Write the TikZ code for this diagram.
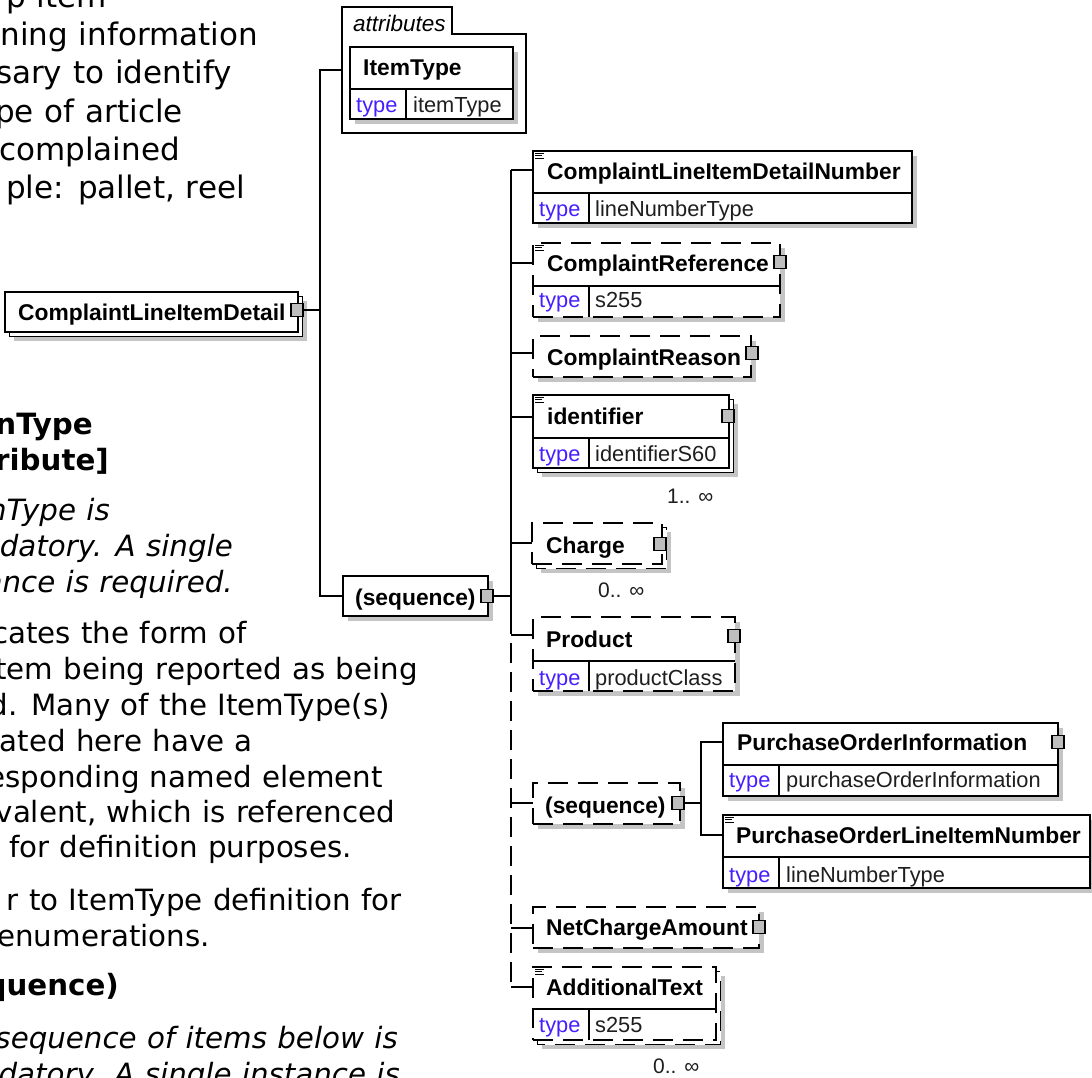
\documentclass[tikz,border=0pt]{standalone}
\usepackage{fontspec}
\setmainfont{Liberation Sans}
\newfontfamily\docfont[WordSpace=1.11]{DejaVu Sans}
\definecolor{shd}{RGB}{196,196,196}
\definecolor{btngray}{RGB}{190,190,190}
\definecolor{typeblue}{RGB}{70,30,255}
\definecolor{valtxt}{RGB}{30,30,30}
\newcommand\nmf{\fontsize{22.8}{27}\selectfont\bfseries}
\newcommand\tyf{\fontsize{21.8}{26}\selectfont}
\newcommand\docA{\docfont\fontsize{31}{38}\selectfont}
\newcommand\docB{\docfont\fontsize{29.3}{36}\selectfont}
\tikzset{
  bl/.style={draw=black, line width=1.6pt},
  dsh/.style={dash pattern=on 20pt off 10pt},
  sld/.style={solid},
  ebox/.style={bl, fill=white, rectangle, anchor=north west, inner sep=0pt, outer sep=0pt},
  conn/.style={draw=black, line width=1.6pt},
  nm/.style={font=\nmf, anchor=base west, inner sep=0pt},
  tl/.style={font=\tyf, text=typeblue, anchor=base west, inner sep=0pt},
  tv/.style={font=\tyf, text=valtxt, anchor=base west, inner sep=0pt},
  ml/.style={font=\fontsize{21}{25}\selectfont, text=valtxt, anchor=base west, inner sep=0pt},
  pbtn/.style={draw=black, line width=1.3pt, fill=btngray, minimum width=12pt, minimum height=13pt, inner sep=0pt, outer sep=0pt},
  dA/.style={font=\docA, anchor=base east, inner sep=0pt},
  dB/.style={font=\docB, anchor=base east, inner sep=0pt},
  dBb/.style={font=\docB\bfseries, anchor=base east, inner sep=0pt},
  dBi/.style={font=\docB\itshape, anchor=base east, inner sep=0pt},
}
\newcommand\mybox[6]{%
  \fill[shd] ({#3+5},{#4+5}) rectangle ({#5+5},{#6+5});
  \node[ebox,#1,minimum width={#5-#3},minimum height={#6-#4}] (#2) at (#3,#4) {};}
\newcommand\mystack[6]{%
  \fill[shd] ({#3+9},{#4+9}) rectangle ({#5+9},{#6+9});
  \draw[bl,#1,fill=white] ({#3+4.5},{#4+4.5}) rectangle ({#5+4.5},{#6+4.5});
  \node[ebox,#1,minimum width={#5-#3},minimum height={#6-#4}] (#2) at (#3,#4) {};}
\newcommand\docicon[2]{\draw[line width=0.9pt] ({#1+2},{#2+2.5}) -- ++(9,0) ({#1+2},{#2+4.8}) -- ++(7,0) ({#1+2},{#2+7.1}) -- ++(9,0);}
\begin{document}
\begin{tikzpicture}[x=1pt,y=-1pt]
\useasboundingbox (0,0) rectangle (1092,1077);
\clip (0,0) rectangle (1092,1077);
\fill[white] (0,0) rectangle (1092,1077);

% ---------- left documentation text ----------
\node[dA] (a1) at (107,7) {p item};
\node[dA] (a2) at (258,45) {ning information};
\node[dA] (a3) at (232,83) {sary to identify};
\node[dA] (a4) at (183,122) {pe of article};
\node[dA] (a5) at (180,160) {complained};
\node[dA] (a6) at (245,198) {ple: pallet, reel};

\node[dBb] (b1) at (93,434) {nType};
\node[dBb] (b2) at (109,470) {ribute]};
\node[dBi] (b3) at (110,520) {nType is};
\node[dBi] (b4) at (233,556) {edatory. A single};
\node[dBi] (b5) at (233,592) {ance is required.};
\node[dB] (b6) at (247,643) {cates the form of};
\node[dB] (b7) at (418,679) {tem being reported as being};
\node[dB] (b8) at (390,715) {d. Many of the ItemType(s)};
\node[dB] (b9) at (253,751) {cated here have a};
\node[dB] (b10) at (383,787) {esponding named element};
\node[dB] (b11) at (395,822) {valent, which is referenced};
\node[dB] (b12) at (352,857) {for definition purposes.};
\node[dB] (b13) at (402,910) {r to ItemType definition for};
\node[dB] (b14) at (210,946) {enumerations.};
\node[dBb] (b15) at (119,995) {quence)};
\node[dBi] (b16) at (398,1048) {sequence of items below is};
\node[dBi] (b17) at (400,1084) {datory. A single instance is};

% ---------- ComplaintLineItemDetail ----------
\mystack{sld}{cli}{5}{292}{298}{332}
\node[nm] (clit) at (18,320) {ComplaintLineItemDetail};
\node[pbtn] (clibtn) at (297,310) {};

% ---------- attributes group ----------
\node[anchor=north west, minimum width=184pt, minimum height=126pt, inner sep=0pt, outer sep=0pt] (attrgrp) at (342,7) {};
\draw[bl, line width=1.4pt] (342,133) -- (342,7) -- (452,7) -- (452,34) -- (526,34) -- (526,133) -- cycle;
\node[font=\fontsize{22.5}{27}\selectfont\itshape, anchor=base west, inner sep=0pt] (attrt) at (353,31) {attributes};
\mybox{sld}{itype}{350}{47}{513}{119}
\draw[bl] (350,89) -- (513,89); \draw[bl] (406,89) -- (406,119);
\node[nm] (itypet) at (363,75) {ItemType};
\node[tl] (itypek) at (356,112) {type};
\node[tv] (itypev) at (413,112) {itemType};

% ---------- top sequence ----------
\mybox{sld}{seq1}{343}{576}{488}{616}
\node[nm] (seq1t) at (355,605) {(sequence)};
\node[pbtn] (seq1btn) at (487,596) {};

% ---------- children ----------
\mybox{sld}{clidn}{533}{151}{912}{223}
\draw[bl] (533,193) -- (912,193); \draw[bl] (589,193) -- (589,223);
\docicon{533}{151}
\node[nm] (clidnt) at (547,179) {ComplaintLineItemDetailNumber};
\node[tl] (clidnk) at (539,216) {type};
\node[tv] (clidnv) at (595,216) {lineNumberType};

\mybox{dsh}{cref}{533}{243}{780}{317}
\draw[bl] (533,286) -- (780,286); \draw[bl] (589,286) -- (589,317);
\docicon{533}{243}
\node[nm] (creft) at (547,271) {ComplaintReference};
\node[pbtn] (crefbtn) at (780,262) {};
\node[tl] (crefk) at (539,307) {type};
\node[tv] (crefv) at (595,307) {s255};

\mybox{dsh}{creason}{533}{336}{751}{377}
\node[nm] (creasont) at (547,365) {ComplaintReason};
\node[pbtn] (creasonbtn) at (752,353) {};

\mystack{sld}{ident}{533}{395}{729}{468}
\draw[bl] (533,438) -- (729,438); \draw[bl] (589,438) -- (589,468);
\docicon{533}{395}
\node[nm] (identt) at (547,424) {identifier};
\node[pbtn] (identbtn) at (728,416) {};
\node[tl] (identk) at (539,461) {type};
\node[tv] (identv) at (595,461) {identifierS60};
\node[ml] (identm) at (667,503) {1.. ∞};

\mystack{dsh}{charge}{532}{523}{662}{564}
\node[nm] (charget) at (546,553) {Charge};
\node[pbtn] (chargebtn) at (660,544) {};
\node[ml] (chargem) at (598,597) {0.. ∞};

\mybox{dsh}{product}{533}{617}{735}{691}
\draw[bl] (533,661) -- (735,661); \draw[bl] (589,661) -- (589,691);
\node[nm] (productt) at (546,647) {Product};
\node[pbtn] (productbtn) at (734,636) {};
\node[tl] (productk) at (539,685) {type};
\node[tv] (productv) at (595,685) {productClass};

\mybox{dsh}{seq2}{533}{783}{680}{824}
\node[nm] (seq2t) at (545,813) {(sequence)};
\node[pbtn] (seq2btn) at (678,803) {};

\mybox{sld}{poi}{723}{723}{1058}{796}
\draw[bl] (723,765) -- (1058,765); \draw[bl] (779,765) -- (779,796);
\node[nm] (poit) at (737,750) {PurchaseOrderInformation};
\node[pbtn] (poibtn) at (1058,742) {};
\node[tl] (poik) at (729,787) {type};
\node[tv] (poiv) at (786,787) {purchaseOrderInformation};

\mybox{sld}{polin}{723}{815}{1090}{888}
\draw[bl] (723,857) -- (1090,857); \draw[bl] (779,857) -- (779,888);
\docicon{723}{815}
\node[nm] (polint) at (736,843) {PurchaseOrderLineItemNumber};
\node[tl] (polink) at (729,882) {type};
\node[tv] (polinv) at (786,882) {lineNumberType};

\mybox{dsh}{nca}{533}{907}{759}{948}
\node[nm] (ncat) at (546,935) {NetChargeAmount};
\node[pbtn] (ncabtn) at (759,927) {};

\mystack{dsh}{addtext}{533}{967}{716}{1040}
\draw[bl] (533,1009) -- (716,1009); \draw[bl] (589,1009) -- (589,1040);
\docicon{533}{967}
\node[nm] (addtextt) at (546,995) {AdditionalText};
\node[tl] (addtextk) at (539,1032) {type};
\node[tv] (addtextv) at (595,1032) {s255};
\node[ml] (addtextm) at (653,1073) {0.. ∞};

% ---------- connectors ----------
\coordinate (j0top) at (320,70);
\coordinate (j0bot) at (320,596);
\draw[conn] (attrgrp.west) -- (j0top) -- (j0bot) -- (seq1.west);
\draw[conn] (clibtn.east) -- (clibtn.east -| j0top);

\coordinate (b0) at (511,596);
\coordinate (t1) at (511,170);
\coordinate (t2) at (511,263);
\coordinate (t3) at (511,353);
\coordinate (t4) at (511,417);
\coordinate (t5) at (511,543);
\coordinate (tsol) at (511,614);
\coordinate (t6) at (511,635);
\coordinate (t7) at (511,803);
\coordinate (t8) at (511,928);
\coordinate (t9) at (511,987);
\draw[conn] (seq1btn.east) -- (b0);
\draw[conn] (t1) -- (tsol);
\draw[conn, dash pattern=on 20pt off 9pt] (tsol) -- (t9);
\draw[conn] (t9) -- (addtext.west |- t9);
\draw[conn] (t1) -- (clidn.west |- t1);
\draw[conn] (t2) -- (cref.west |- t2);
\draw[conn] (t3) -- (creason.west |- t3);
\draw[conn] (t4) -- (ident.west |- t4);
\draw[conn] (t5) -- (charge.west |- t5);
\draw[conn] (t6) -- (product.west |- t6);
\draw[conn] (t7) -- (seq2.west |- t7);
\draw[conn] (t8) -- (nca.west |- t8);

\coordinate (k1) at (701,742);
\coordinate (k2) at (701,835);
\draw[conn] (seq2btn.east) -- (seq2btn.east -| k1);
\draw[conn] (poi.west |- k1) -- (k1) -- (k2) -- (polin.west |- k2);
\end{tikzpicture}
\end{document}
